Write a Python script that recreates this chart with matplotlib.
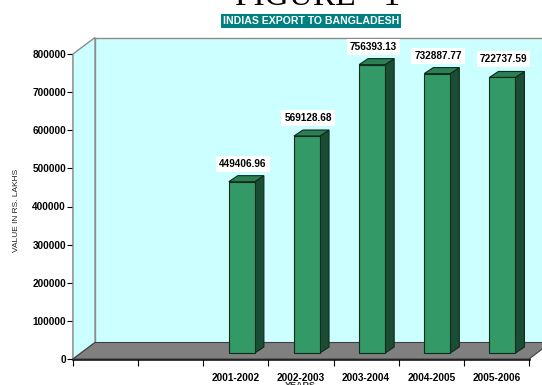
import matplotlib
matplotlib.use("Agg")
import matplotlib.pyplot as plt
import matplotlib.transforms as mtransforms
from matplotlib.patches import Polygon
import numpy as np

# ---- data ----
categories = ["", "", "2001-2002", "2002-2003", "2003-2004", "2004-2005", "2005-2006"]
values = [None, None, 449406.96, 569128.68, 756393.13, 732887.77, 722737.59]
value_labels = ["", "", "449406.96", "569128.68", "756393.13", "732887.77", "722737.59"]
y_ticks = [0, 100000, 200000, 300000, 400000, 500000, 600000, 700000, 800000]
title = "FIGURE - 1"
subtitle = "INDIAS EXPORT TO BANGLADESH"
ylabel = "VALUE IN RS. LAKHS"
xlabel = "YEARS"

# ---- style ----
W, H, DPI = 542, 385, 100
wall_c = "#CCFFFF"
floor_c = "#808080"
edge_gray = "#8C8C8C"
front_c = "#339966"
side_c = "#1B4D35"
top_c = "#2B7F53"

fig = plt.figure(figsize=(W / DPI, H / DPI), dpi=DPI)
fig.patch.set_facecolor("white")
ax = fig.add_axes([73 / W, (H - 359) / H, (529 - 73) / W, (359 - 54) / H])
ax.set_xlim(0, len(categories))
ax.set_ylim(0, 800000)
ax.patch.set_visible(False)
for s in ["top", "right"]:
    ax.spines[s].set_visible(False)
ax.spines["left"].set_linewidth(1.0)
ax.spines["bottom"].set_linewidth(1.8)
ax.spines["left"].set_zorder(10)
ax.spines["bottom"].set_zorder(10)

DX, DY = 22, 16.5  # depth offset in pixels

def disp(x, y, dx=0, dy=0):
    p = ax.transData.transform((x, y))
    return (p[0] + dx, p[1] + dy)

ident = mtransforms.IdentityTransform()
n = len(categories)
ymax = 800000

# back wall
pts = [disp(0, 0, DX, DY), disp(n, 0, DX, DY), disp(n, ymax, DX, DY), disp(0, ymax, DX, DY)]
fig.patches.append(Polygon(pts, closed=True, transform=ident, facecolor=wall_c,
                           edgecolor=edge_gray, lw=1.0, zorder=0))
# left wall
pts = [disp(0, 0), disp(0, 0, DX, DY), disp(0, ymax, DX, DY), disp(0, ymax)]
fig.patches.append(Polygon(pts, closed=True, transform=ident, facecolor=wall_c,
                           edgecolor=edge_gray, lw=1.0, zorder=0))
# floor
pts = [disp(0, 0), disp(n, 0), disp(n, 0, DX, DY), disp(0, 0, DX, DY)]
fig.patches.append(Polygon(pts, closed=True, transform=ident, facecolor=floor_c,
                           edgecolor="#404040", lw=0.8, zorder=1))

# bars
bw = 0.40
FX, FY = 6, 6      # front face offset
BX, BY = 15, 12    # back face offset
for i, v in enumerate(values):
    if v is None:
        continue
    xc = i + 0.5
    x0, x1 = xc - bw / 2, xc + bw / 2
    front = [disp(x0, 0, FX, FY), disp(x1, 0, FX, FY), disp(x1, v, FX, FY), disp(x0, v, FX, FY)]
    side = [disp(x1, 0, FX, FY), disp(x1, 0, BX, BY), disp(x1, v, BX, BY), disp(x1, v, FX, FY)]
    top = [disp(x0, v, FX, FY), disp(x1, v, FX, FY), disp(x1, v, BX, BY), disp(x0, v, BX, BY)]
    for poly, c in [(side, side_c), (top, top_c), (front, front_c)]:
        fig.patches.append(Polygon(poly, closed=True, transform=ident, facecolor=c,
                                   edgecolor="#102a1c", lw=0.8, zorder=3))
    tx, ty = disp(xc, v, FX + 1, FY)
    fig.text(tx / W, (ty + 18) / H, value_labels[i], ha="center", va="center",
             fontsize=7.2, fontweight="bold", family="Liberation Sans", color="black",
             bbox=dict(boxstyle="square,pad=0.3", facecolor="white", edgecolor="none"),
             zorder=5)

# ticks
ax.set_yticks(y_ticks)
ax.set_yticklabels([str(t) for t in y_ticks])
ax.set_xticks(np.arange(0, n + 1))
ax.set_xticklabels([])
ax.set_xticks(np.arange(n) + 0.5, minor=True)
ax.set_xticklabels(categories, minor=True)
ax.tick_params(axis="y", length=4, width=0.8, pad=1, labelsize=7.2)
ax.tick_params(axis="x", which="major", length=5, width=0.8, direction="out")
ax.tick_params(axis="x", which="minor", length=0, pad=10, labelsize=7.2)
for lab in ax.get_yticklabels() + ax.get_xticklabels(minor=True):
    lab.set_fontweight("bold")
    lab.set_family("Liberation Sans")

fig.text(17 / W, 1 - 210 / H, ylabel, rotation=90, ha="center", va="center",
         fontsize=6, family="Liberation Sans", color="#222222")
fig.text(300 / W, 1 - 386 / H, xlabel, ha="center", va="center",
         fontsize=6.5, fontweight="bold", family="Liberation Sans", color="#333333")

# titles
fig.text(318 / W, 1 + 3 / H, title, ha="center", va="center", fontsize=24,
         family="Liberation Serif", color="black")
fig.text(311 / W, 1 - 21 / H, subtitle, ha="center", va="center", fontsize=7.6,
         fontweight="bold", family="Liberation Sans", color="white",
         bbox=dict(boxstyle="square,pad=0.15", facecolor="#008080", edgecolor="none"))

fig.savefig("out.png", dpi=DPI, facecolor="white")
